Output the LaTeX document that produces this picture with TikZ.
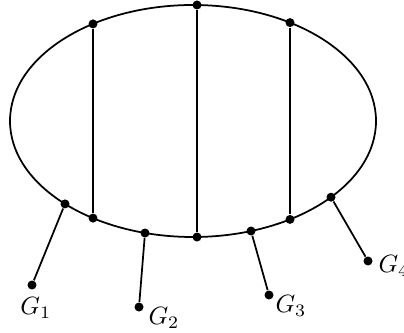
\documentclass[tikz,border=0pt]{standalone}
\begin{document}
\begin{tikzpicture}[x=0.4pt,y=-0.4pt,
  vtx/.style={circle,fill=black,inner sep=0pt,minimum size=3.6pt},
  edge/.style={line width=0.7pt},
  lab/.style={inner sep=0pt}]
\useasboundingbox (0,0) rectangle (404,332);
\draw[edge] (193,121) ellipse [x radius=183, y radius=116];
% top vertices
\node[vtx] (t1) at (93,23.9) {};
\node[vtx] (t2) at (197,5) {};
\node[vtx] (t3) at (290,22.6) {};
% bottom vertices
\node[vtx] (b1) at (93,218.1) {};
\node[vtx] (b2) at (197,237) {};
\node[vtx] (b3) at (290,219.4) {};
% attachment vertices
\node[vtx] (a1) at (65,203.9) {};
\node[vtx] (a2) at (145,233) {};
\node[vtx] (a3) at (251,231) {};
\node[vtx] (a4) at (331,197.2) {};
% outer vertices
\node[vtx] (g1) at (32,285) {};
\node[vtx] (g2) at (139,307) {};
\node[vtx] (g3) at (269,295) {};
\node[vtx] (g4) at (368,261) {};
\draw[edge] (t1) -- (b1);
\draw[edge] (t2) -- (b2);
\draw[edge] (t3) -- (b3);
\draw[edge] (a1) -- (g1);
\draw[edge] (a2) -- (g2);
\draw[edge] (a3) -- (g3);
\draw[edge] (a4) -- (g4);
\node[lab,anchor=north west] (l1) at ([xshift=-4.8pt,yshift=-4.8pt]g1.center) {$G_1$};
\node[lab,anchor=north west] (l2) at ([xshift=3.6pt,yshift=0pt]g2.center) {$G_2$};
\node[lab,anchor=north west] (l3) at ([xshift=2.4pt,yshift=0pt]g3.center) {$G_3$};
\node[lab,anchor=north west] (l4) at ([xshift=4pt,yshift=2.4pt]g4.center) {$G_4$};
\end{tikzpicture}
\end{document}
